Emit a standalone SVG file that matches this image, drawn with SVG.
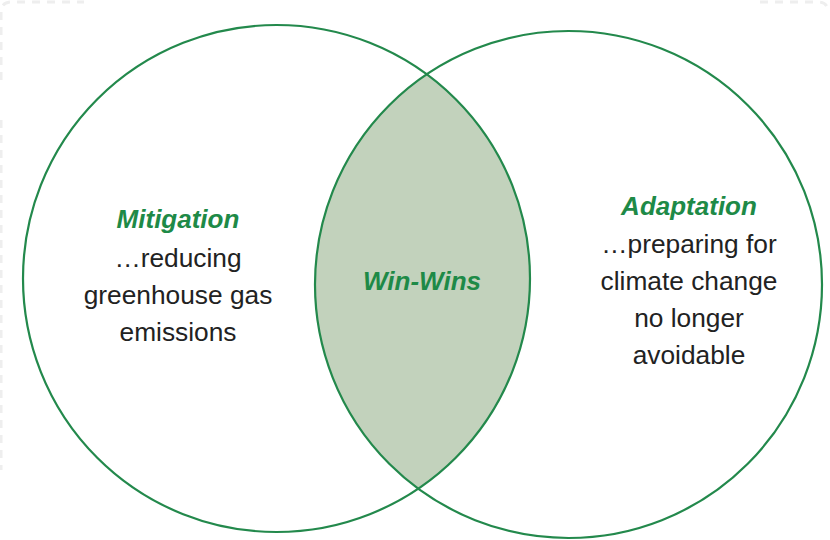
<svg xmlns="http://www.w3.org/2000/svg" width="830" height="540" viewBox="0 0 830 540">
  <style>
    .ring { fill: none; stroke: #23894c; stroke-width: 2.2; }
    .lens { fill: #c2d2bc; stroke: none; }
    .head { font-family: "Liberation Sans", Arial, sans-serif; font-size: 26px; font-weight: bold; font-style: italic; fill: #1e8a47; text-anchor: middle; }
    .body { font-family: "Liberation Sans", Arial, sans-serif; font-size: 26.3px; fill: #222222; text-anchor: middle; }
    .frame { fill: none; stroke: #eeeeee; stroke-width: 3; stroke-dasharray: 8 7; }
  </style>
  <rect x="0" y="0" width="830" height="540" fill="#ffffff"/>
  <path class="frame" d="M1 80 V12 Q1 2 12 2 H84"/>
  <path class="frame" d="M760 2 H818 Q828 2 828 12"/>
  <path class="frame" d="M1 120 V470"/>
  <g id="win-wins">
    <path class="lens" d="M426.7 74.3 A253.5 253.5 0 0 1 418.2 488.7 A253.5 253.5 0 0 1 426.7 74.3 Z"/>
    <text class="head" x="422" y="290">Win-Wins</text>
  </g>
  <g id="mitigation">
    <circle class="ring" cx="276.5" cy="278.5" r="253.5"/>
    <text class="head" x="178" y="228">Mitigation</text>
    <text class="body" x="178" y="267">…reducing</text>
    <text class="body" x="178" y="304">greenhouse gas</text>
    <text class="body" x="178" y="341">emissions</text>
  </g>
  <g id="adaptation">
    <circle class="ring" cx="568.5" cy="284.5" r="253.5"/>
    <text class="head" x="689" y="215">Adaptation</text>
    <text class="body" x="689" y="253">…preparing for</text>
    <text class="body" x="689" y="290">climate change</text>
    <text class="body" x="689" y="327">no longer</text>
    <text class="body" x="689" y="364">avoidable</text>
  </g>
  <g id="connectors"></g>
</svg>
